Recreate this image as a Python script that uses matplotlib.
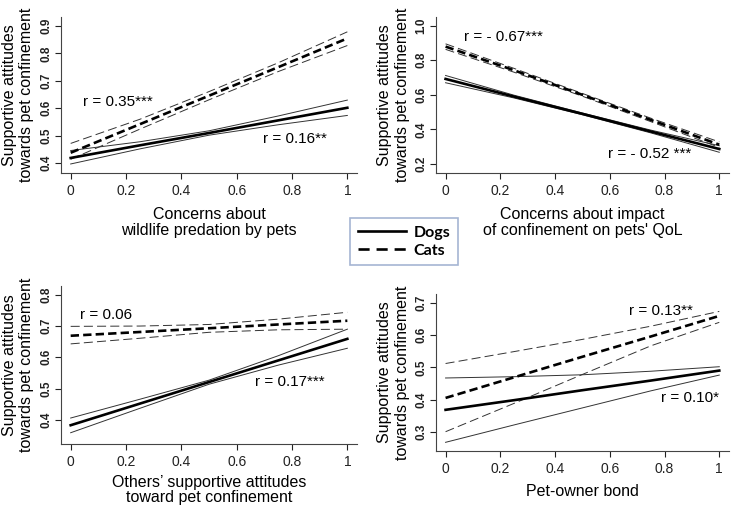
import matplotlib
matplotlib.use("Agg")
import matplotlib.pyplot as plt

plt.rcParams['font.family'] = ['Liberation Sans', 'DejaVu Sans']
plt.rcParams['lines.scale_dashes'] = False

# x positions where the fitted lines and their bands were read
xs = [0, 0.25, 0.5, 0.75, 1]

# panel 1: wildlife predation concerns
p1_dogs = [0.419, 0.465, 0.510, 0.556, 0.602]
p1_dogs_hi = [0.446, 0.478, 0.518, 0.572, 0.630]
p1_dogs_lo = [0.397, 0.452, 0.502, 0.540, 0.574]
p1_cats = [0.438, 0.542, 0.646, 0.750, 0.855]
p1_cats_hi = [0.472, 0.560, 0.661, 0.766, 0.879]
p1_cats_lo = [0.414, 0.524, 0.631, 0.734, 0.829]

# panel 2: impact of confinement on QoL
p2_dogs = [0.692, 0.590, 0.490, 0.388, 0.287]
p2_dogs_hi = [0.712, 0.598, 0.495, 0.396, 0.306]
p2_dogs_lo = [0.670, 0.582, 0.485, 0.380, 0.268]
p2_cats = [0.879, 0.742, 0.600, 0.455, 0.312]
p2_cats_hi = [0.895, 0.753, 0.608, 0.465, 0.328]
p2_cats_lo = [0.863, 0.731, 0.592, 0.445, 0.296]

# panel 3: others' supportive attitudes
p3_dogs = [0.383, 0.452, 0.521, 0.590, 0.659]
p3_dogs_hi = [0.406, 0.466, 0.527, 0.605, 0.690]
p3_dogs_lo = [0.359, 0.437, 0.514, 0.575, 0.629]
p3_cats = [0.669, 0.681, 0.693, 0.705, 0.717]
p3_cats_hi = [0.699, 0.700, 0.705, 0.722, 0.744]
p3_cats_lo = [0.643, 0.661, 0.680, 0.688, 0.690]

# panel 4: pet-owner bond
p4_dogs = [0.368, 0.398, 0.429, 0.459, 0.490]
p4_dogs_hi = [0.467, 0.471, 0.477, 0.488, 0.502]
p4_dogs_lo = [0.267, 0.321, 0.374, 0.427, 0.476]
p4_cats = [0.405, 0.469, 0.533, 0.596, 0.660]
p4_cats_hi = [0.512, 0.549, 0.587, 0.628, 0.674]
p4_cats_lo = [0.300, 0.388, 0.478, 0.567, 0.640]

xticks = [0, 0.2, 0.4, 0.6, 0.8, 1]
xticklabels = ['0', '0.2', '0.4', '0.6', '0.8', '1']
ylab = 'Supportive attitudes\ntowards pet confinement'

panels = [
    dict(pos=[0.0831, 0.6594, 0.4033, 0.3071], ylim=(0.364, 0.933),
         yticks=[0.4, 0.5, 0.6, 0.7, 0.8, 0.9], yticklabels=['0.4', '0.5', '0.6', '0.7', '0.8', '0.9'],
         xlabel='Concerns about\nwildlife predation by pets', xlab_y=-0.218,
         dogs=(p1_dogs, p1_dogs_lo, p1_dogs_hi), cats=(p1_cats, p1_cats_lo, p1_cats_hi),
         notes=[(0.043, 0.624, 'r = 0.35***'), (0.696, 0.487, 'r = 0.16**')]),
    dict(pos=[0.594, 0.6594, 0.399, 0.3071], ylim=(0.148, 1.05),
         yticks=[0.2, 0.4, 0.6, 0.8, 1.0], yticklabels=['0.2', '0.4', '0.6', '0.8', '1.0'],
         xlabel="Concerns about impact\nof confinement on pets' QoL", xlab_y=-0.218,
         dogs=(p2_dogs, p2_dogs_lo, p2_dogs_hi), cats=(p2_cats, p2_cats_lo, p2_cats_hi),
         notes=[(0.069, 0.936, 'r = - 0.67***'), (0.593, 0.258, 'r = - 0.52 ***')]),
    dict(pos=[0.0831, 0.126, 0.4033, 0.311], ylim=(0.323, 0.828),
         yticks=[0.4, 0.5, 0.6, 0.7, 0.8], yticklabels=['0.4', '0.5', '0.6', '0.7', '0.8'],
         xlabel='Others\u2019 supportive attitudes\ntoward pet confinement', xlab_y=-0.194,
         dogs=(p3_dogs, p3_dogs_lo, p3_dogs_hi), cats=(p3_cats, p3_cats_lo, p3_cats_hi),
         notes=[(0.032, 0.735, 'r = 0.06'), (0.666, 0.52, 'r = 0.17***')]),
    dict(pos=[0.594, 0.1122, 0.399, 0.309], ylim=(0.24, 0.728),
         yticks=[0.3, 0.4, 0.5, 0.6, 0.7], yticklabels=['0.3', '0.4', '0.5', '0.6', '0.7'],
         xlabel='Pet-owner bond', xlab_y=-0.21,
         dogs=(p4_dogs, p4_dogs_lo, p4_dogs_hi), cats=(p4_cats, p4_cats_lo, p4_cats_hi),
         notes=[(0.671, 0.676, 'r = 0.13**'), (0.786, 0.405, 'r = 0.10*')]),
]

fig = plt.figure(figsize=(7.34, 5.08), dpi=100)

handles = None
for p in panels:
    ax = fig.add_axes(p['pos'])
    d, dlo, dhi = p['dogs']
    c, clo, chi = p['cats']
    ax.plot(xs, dlo, color='#333333', lw=0.7)
    ax.plot(xs, dhi, color='#333333', lw=0.7)
    ax.plot(xs, clo, color='#333333', lw=0.7, dashes=(6.5, 3))
    ax.plot(xs, chi, color='#333333', lw=0.7, dashes=(6.5, 3))
    h1, = ax.plot(xs, d, color='black', lw=1.9)
    h2, = ax.plot(xs, c, color='black', lw=1.9, dashes=(6, 3))
    handles = [h1, h2]
    for x, y, s in p['notes']:
        ax.text(x, y, s, fontsize=11, va='center', ha='left')
    ax.set_xlim(-0.035, 1.035)
    ax.set_ylim(*p['ylim'])
    ax.set_xticks(xticks)
    ax.set_xticklabels(xticklabels, fontsize=10)
    ax.set_yticks(p['yticks'])
    ax.set_yticklabels(p['yticklabels'], fontsize=8.5, fontweight='bold',
                       rotation=90, va='center')
    ax.tick_params(length=4, width=0.8, colors='#222222', pad=2)
    ax.tick_params(axis='x', pad=4)
    for s in ['top', 'right']:
        ax.spines[s].set_visible(False)
    for s in ['left', 'bottom']:
        ax.spines[s].set_color('#444444')
        ax.spines[s].set_linewidth(0.8)
    ax.set_ylabel(ylab, fontsize=11.5, linespacing=1.2)
    ax.yaxis.set_label_coords(-0.09, 0.5)
    ax.set_xlabel(p['xlabel'], fontsize=11.5, linespacing=1.05, va='top')
    ax.xaxis.set_label_coords(0.5, p['xlab_y'])

leg = fig.legend(handles, ['Dogs', 'Cats'], loc='center',
                 bbox_to_anchor=(404 / 734, 1 - 241.5 / 508),
                 frameon=True, fancybox=False, edgecolor='#8fa3c8',
                 handlelength=3.0, handletextpad=0.5, borderpad=0.45,
                 labelspacing=0.25,
                 prop={'family': 'Lato', 'weight': 'bold', 'size': 11.5})
leg.get_frame().set_linewidth(1.2)
leg.get_lines()[1].set_dashes((8, 5))

fig.savefig('out.png', dpi=100)
